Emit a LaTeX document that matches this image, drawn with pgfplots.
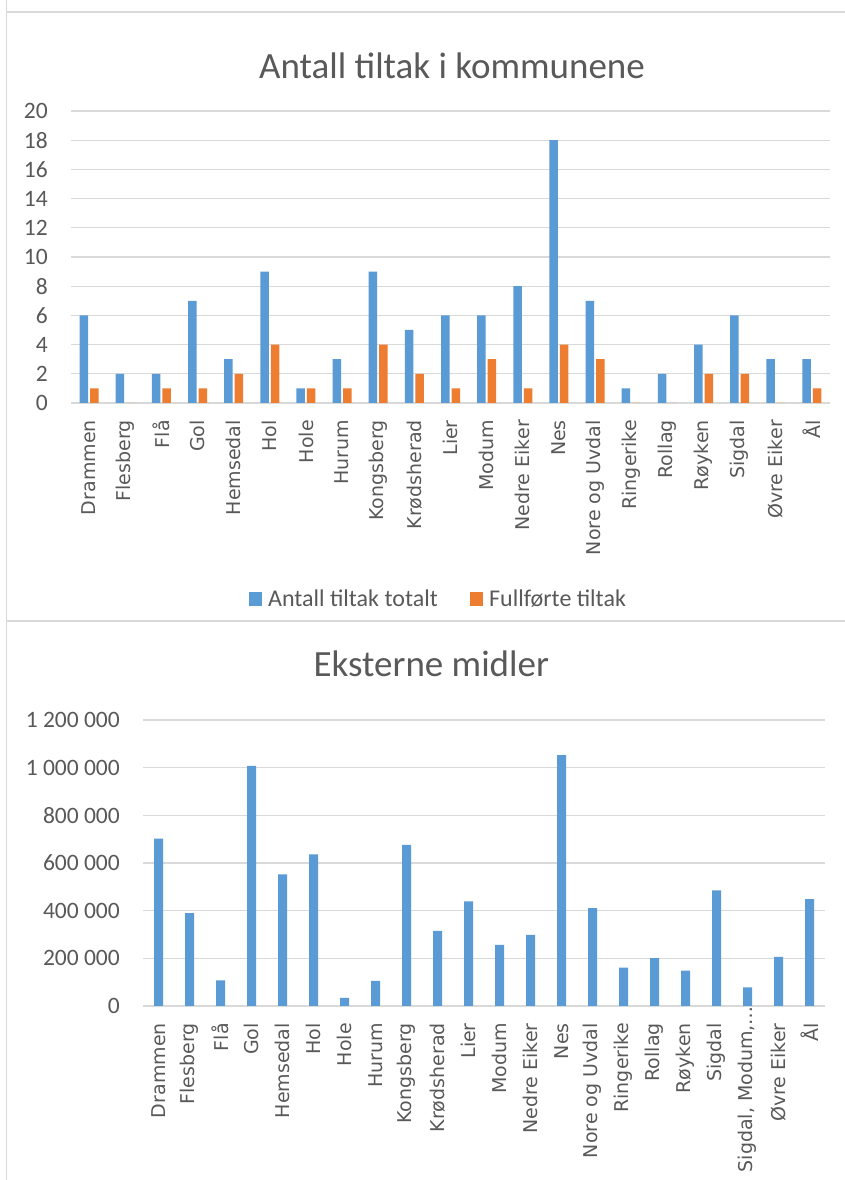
\documentclass[border=0pt]{standalone}
\usepackage{fontspec}
\setmainfont{Carlito}
\newfontfamily\dejavu{DejaVu Sans}
\usepackage{pgfplots}
\usepackage{pgfplotstable}
\pgfplotsset{compat=1.18}
\definecolor{cblue}{HTML}{5B9BD5}
\definecolor{corange}{HTML}{ED7D31}
\definecolor{ctext}{HTML}{595959}
\definecolor{cgrid}{HTML}{D9D9D9}

\pgfplotstableread{
x total done
0 6 1
1 2 0
2 2 1
3 7 1
4 3 2
5 9 4
6 1 1
7 3 1
8 9 4
9 5 2
10 6 1
11 6 3
12 8 1
13 18 4
14 7 3
15 1 0
16 2 0
17 4 2
18 6 2
19 3 0
20 3 1
}\tiltak

\pgfplotstableread{
x value
0 702000
1 390000
2 108000
3 1007000
4 552000
5 636000
6 34000
7 105000
8 676000
9 315000
10 439000
11 256000
12 298000
13 1053000
14 411000
15 161000
16 201000
17 148000
18 485000
19 78000
20 206000
21 448000
}\midler

\pgfplotsset{
  excel/.style={
    scale only axis,
    axis line style={draw=none},
    tick style={draw=none},
    major tick length=0pt,
    ymajorgrids,
    grid style={cgrid, line width=1.2pt},
    ymin=0,
    xmin=-0.5,
    /pgf/number format/assume math mode=true,
    tick label style={text=ctext},
    yticklabel style={anchor=east, inner sep=0pt, xshift=-23pt,
      font=\fontsize{23.5}{24}\selectfont},
    xticklabel style={rotate=90, anchor=east, inner xsep=17pt, inner ysep=0pt,
      font=\dejavu\fontsize{19}{20}\selectfont},
    title style={text=ctext, font=\fontsize{37}{40}\selectfont, anchor=base},
  }
}

\begin{document}
\begin{tikzpicture}[x=1pt,y=1pt]
\path[use as bounding box, fill=white] (0,0) rectangle (845,1180);
\draw[cgrid, line width=1.6pt] (6.5,1180) -- (6.5,0);
\draw[cgrid, line width=1.6pt] (6.5,1168) -- (846,1168);
\draw[cgrid, line width=1.8pt] (6.5,559) -- (846,559);

\begin{axis}[excel,
  at={(71pt,777pt)}, anchor=south west,
  width=759pt, height=292pt,
  xmax=20.5, ymax=20,
  ytick={0,2,...,20},
  xtick={0,...,20},
  xticklabels={Drammen, Flesberg, Flå, Gol, Hemsedal, Hol, Hole, Hurum, Kongsberg, Krødsherad, Lier, Modum, Nedre Eiker, Nes, Nore og Uvdal, Ringerike, Rollag, Røyken, Sigdal, Øvre Eiker, Ål},
  ybar=2pt, bar width=8.5pt,
  title={Antall tiltak i kommunene},
  title style={at={(0.502,1)}, yshift=26pt},
  legend columns=2,
  legend style={draw=none, fill=none, at={(0.484,-0.671)}, anchor=center,
    font=\fontsize{24}{25}\selectfont, text=ctext,
    /tikz/every odd column/.append style={column sep=4pt},
    /tikz/every even column/.append style={column sep=30pt}},
  legend image code/.code={\fill[#1] (0pt,-6.7pt) rectangle (13.4pt,6.7pt);},
]
\addplot[fill=cblue, draw=none] table[x=x, y=total] {\tiltak};
\addplot[fill=corange, draw=none] table[x=x, y=done] {\tiltak};
\legend{Antall tiltak totalt, Fullførte tiltak}
\end{axis}

\begin{axis}[excel,
  at={(143pt,174pt)}, anchor=south west,
  width=682pt, height=286pt,
  xmax=21.5, ymax=1200000,
  scaled y ticks=false,
  ytick={0,200000,400000,600000,800000,1000000,1200000},
  yticklabels={0, 200 000, 400 000, 600 000, 800 000, 1 000 000, 1 200 000},
  xtick={0,...,21},
  xticklabels={Drammen, Flesberg, Flå, Gol, Hemsedal, Hol, Hole, Hurum, Kongsberg, Krødsherad, Lier, Modum, Nedre Eiker, Nes, Nore og Uvdal, Ringerike, Rollag, Røyken, Sigdal, {Sigdal, Modum,…\kern-17pt}, Øvre Eiker, Ål},
  ybar, bar width=9pt,
  title={Eksterne midler},
  title style={at={(0.4227,1)}, yshift=37pt},
]
\addplot[fill=cblue, draw=none] table[x=x, y=value] {\midler};
\end{axis}
\end{tikzpicture}
\end{document}
